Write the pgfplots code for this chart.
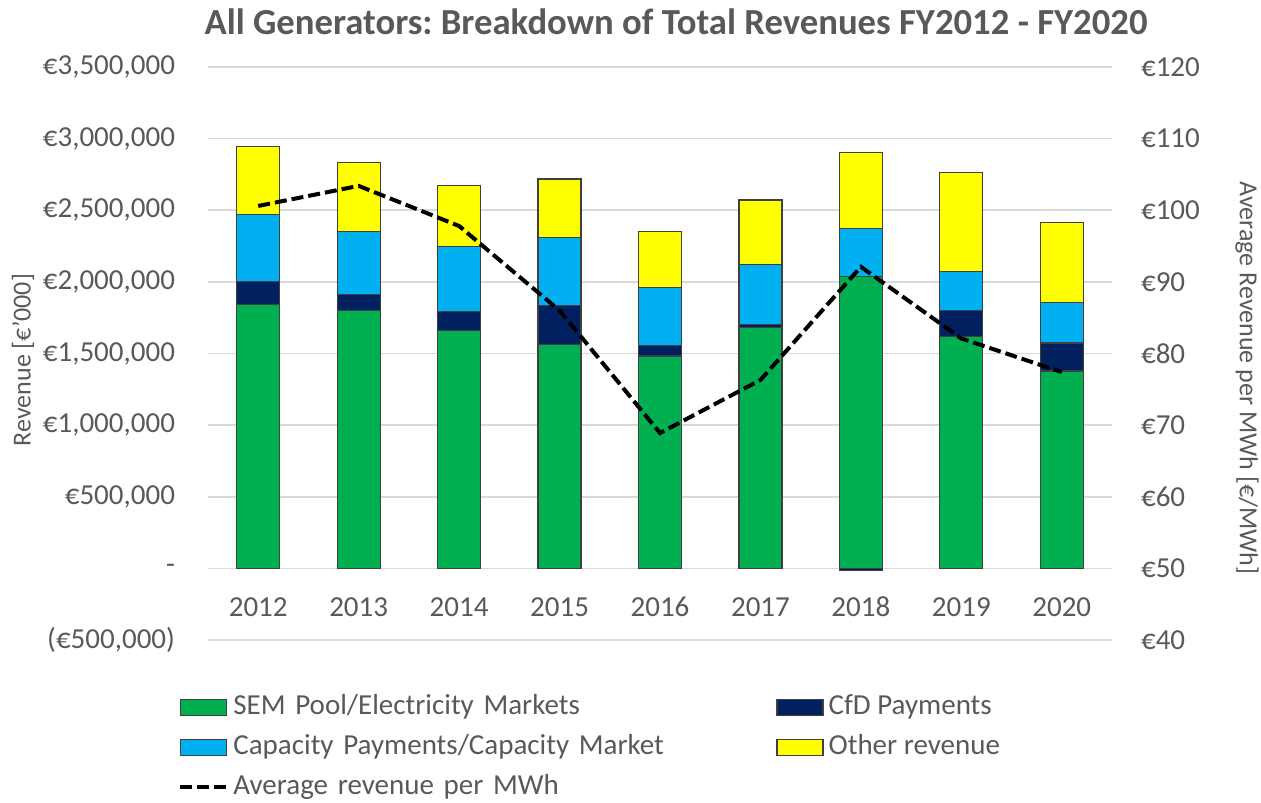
\documentclass[border=0pt]{standalone}
\usepackage{pgfplots}
\pgfplotsset{compat=1.18}
\usepackage{fontspec}
\setmainfont{Carlito}
\frenchspacing
\definecolor{semgreen}{HTML}{00B050}
\definecolor{cfdnavy}{HTML}{002060}
\definecolor{capblue}{HTML}{00B0F0}
\definecolor{othyellow}{HTML}{FFFF00}
\definecolor{edge}{HTML}{404040}
\definecolor{txt}{HTML}{595959}
\definecolor{grid}{HTML}{D9D9D9}

\pgfplotsset{
  base/.style={scale only axis, width=452pt, height=286.5pt,
    at={(104pt,-33.5pt)}, anchor=north west,
    xmin=2011.5, xmax=2020.5,
    axis line style={draw=none}, tick style={draw=none},
    scaled y ticks=false,
    tick label style={font=\fontsize{14.5}{17}\selectfont, text=txt}},
  barbox/.style={fill=#1, draw=edge, line width=0.6pt,
    legend image code/.code={\draw[##1] (0pt,-4pt) rectangle (23pt,4pt);}},
  avgline/.style={black, line width=2pt, dash pattern=on 6pt off 2.5pt},
  lineleg/.style={avgline,
    legend image code/.code={\draw[##1] (0pt,0pt) -- (23pt,0pt);}},
}

\begin{document}
\begin{tikzpicture}
\useasboundingbox (0,0) rectangle (630.5pt,-401pt);

\begin{axis}[base,
  ymin=-500000, ymax=3500000,
  ybar stacked, bar width=21.5pt,
  ymajorgrids, grid style={draw=grid, line width=0.8pt},
  ytick={-500000,0,500000,1000000,1500000,2000000,2500000,3000000,3500000},
  yticklabels={{(€500,000)},{-},{€500,000},{€1,000,000},{€1,500,000},{€2,000,000},{€2,500,000},{€3,000,000},{€3,500,000}},
  yticklabel style={xshift=-13pt},
  xtick={2012,2013,2014,2015,2016,2017,2018,2019,2020},
  xticklabels={2012,2013,2014,2015,2016,2017,2018,2019,2020},
  xticklabel style={anchor=center, yshift=16.5pt},
  legend columns=2,
  legend style={at={(-0.0332,-0.0925)}, anchor=north west, draw=none, fill=none,
    inner sep=0pt, row sep=6pt,
    nodes={inner sep=0pt, text height=10.5pt, text depth=3.5pt, text=txt, font=\fontsize{14.5}{17}\selectfont},
    /tikz/column 1/.style={column sep=2.5pt},
    /tikz/column 2/.style={text width=265.5pt, column sep=6pt},
    /tikz/column 3/.style={column sep=2.5pt}},
  legend cell align=left,
]
\addplot[barbox=semgreen] coordinates {(2012,1844000)(2013,1800000)(2014,1660000)(2015,1563000)(2016,1483000)(2017,1681000)(2018,2040000)(2019,1616000)(2020,1378000)};
\addlegendentry{SEM Pool/Electricity Markets}
\addplot[barbox=cfdnavy] coordinates {(2012,161000)(2013,114000)(2014,131000)(2015,270000)(2016,75000)(2017,19000)(2018,0)(2019,184000)(2020,196000)};
\addlegendentry{CfD Payments}
\addplot[barbox=capblue] coordinates {(2012,468000)(2013,436000)(2014,454000)(2015,479000)(2016,405000)(2017,419000)(2018,335000)(2019,270000)(2020,282000)};
\addlegendentry{Capacity Payments/Capacity Market}
\addplot[barbox=othyellow] coordinates {(2012,470000)(2013,486000)(2014,426000)(2015,406000)(2016,387000)(2017,452000)(2018,529000)(2019,696000)(2020,561000)};
\addlegendentry{Other revenue}
\addlegendimage{lineleg}
\addlegendentry{Average revenue per MWh}
\end{axis}

% negative CfD payment in 2018, drawn below zero
\begin{axis}[base, hide axis, ymin=-500000, ymax=3500000, ybar, bar width=21.5pt]
\addplot[barbox=cfdnavy] coordinates {(2018,-15000)};
\end{axis}

\begin{axis}[base,
  ymin=40, ymax=120,
  axis x line=none, axis y line*=right,
  ytick={40,50,60,70,80,90,100,110,120},
  yticklabels={€40,€50,€60,€70,€80,€90,€100,€110,€120},
  yticklabel style={xshift=11pt},
]
\addplot[avgline] coordinates {(2012,100.6)(2013,103.4)(2014,97.8)(2015,86.0)(2016,68.9)(2017,76.3)(2018,92.1)(2019,82.1)(2020,77.4)};
\end{axis}

\node[font=\bfseries\fontsize{18.35}{21}\selectfont, text=txt] at (338pt,-11pt) {All Generators: Breakdown of Total Revenues FY2012 - FY2020};
\node[rotate=90, font=\fontsize{13}{15}\selectfont, text=txt] at (11.5pt,-180pt) {Revenue [€'000]};
\node[rotate=-90, font=\fontsize{13}{15}\selectfont, text=txt] at (623.5pt,-189pt) {Average Revenue per MWh [€/MWh]};
\end{tikzpicture}
\end{document}
